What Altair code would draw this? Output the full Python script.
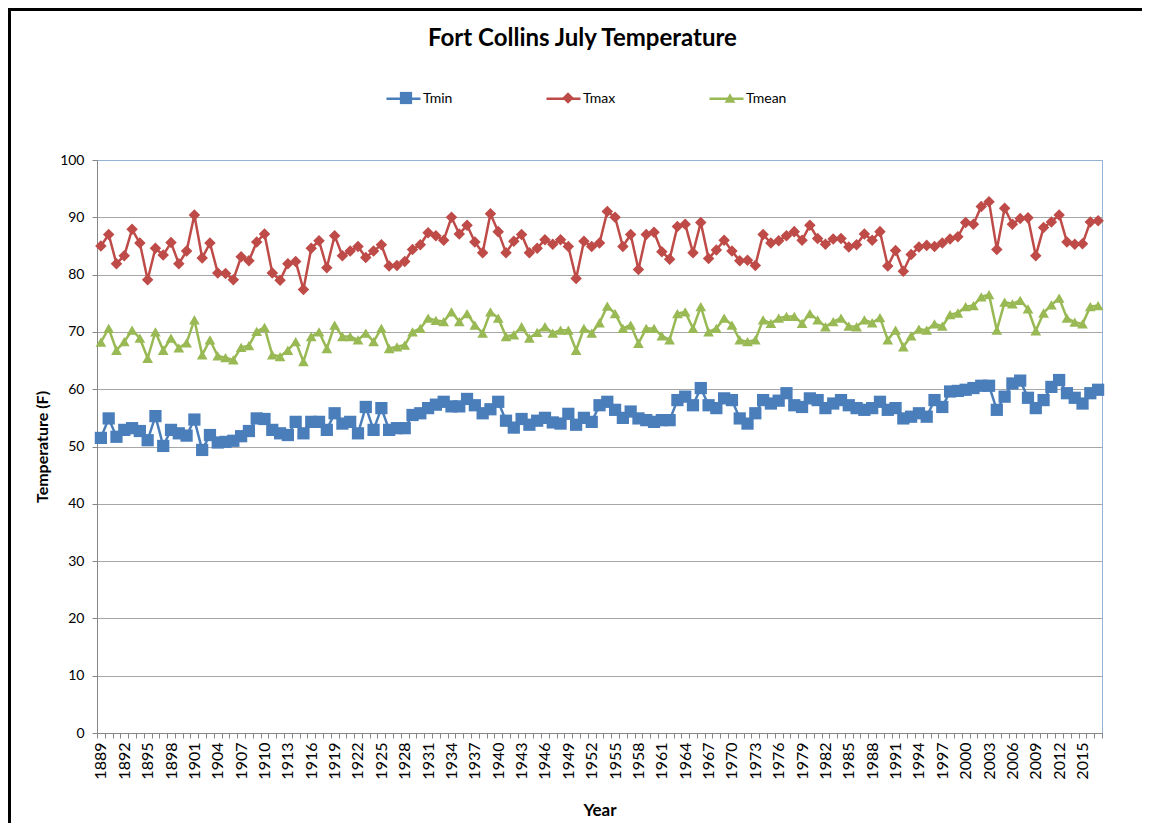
import altair as alt
import pandas as pd

years = list(range(1889, 2018))

tmin = [
    51.5, 54.9, 51.7, 52.9, 53.2, 52.7, 51.1, 55.3, 50.1, 52.9,
    52.3, 51.9, 54.7, 49.4, 52.0, 50.7, 50.8, 51.0, 51.8, 52.7,
    54.9, 54.8, 52.9, 52.3, 52.0, 54.3, 52.3, 54.3, 54.3, 52.9,
    55.8, 54.0, 54.3, 52.3, 56.9, 52.9, 56.7, 52.9, 53.2, 53.2,
    55.5, 55.8, 56.7, 57.3, 57.8, 57.0, 57.0, 58.3, 57.2, 55.8,
    56.5, 57.8, 54.5, 53.3, 54.8, 53.8, 54.5, 55.0, 54.2, 54.0,
    55.7, 53.8, 55.0, 54.3, 57.2, 57.8, 56.4, 55.0, 56.1, 54.9,
    54.6, 54.3, 54.6, 54.6, 58.1, 58.7, 57.2, 60.2, 57.2, 56.7,
    58.4, 58.1, 54.9, 54.0, 55.8, 58.1, 57.5, 58.0, 59.3, 57.2,
    56.9, 58.4, 58.1, 56.7, 57.5, 58.1, 57.2, 56.7, 56.4, 56.7,
    57.8, 56.4, 56.7, 54.9, 55.2, 55.8, 55.2, 58.1, 56.9, 59.6,
    59.7, 59.9, 60.2, 60.6, 60.6, 56.4, 58.7, 61.0, 61.5, 58.5,
    56.7, 58.1, 60.4, 61.6, 59.3, 58.5, 57.5, 59.3, 59.9,
]

tmax = [
    85.0, 87.0, 81.9, 83.3, 87.9, 85.5, 79.1, 84.6, 83.4, 85.6,
    81.9, 84.1, 90.4, 82.9, 85.5, 80.3, 80.2, 79.1, 83.1, 82.4,
    85.7, 87.1, 80.3, 79.0, 81.9, 82.3, 77.4, 84.6, 85.9, 81.2,
    86.8, 83.3, 84.1, 84.9, 83.0, 84.1, 85.2, 81.5, 81.6, 82.3,
    84.4, 85.2, 87.3, 86.8, 86.0, 90.0, 87.1, 88.6, 85.7, 83.8,
    90.6, 87.5, 83.8, 85.8, 87.0, 83.8, 84.6, 86.1, 85.3, 86.1,
    84.9, 79.3, 85.8, 84.9, 85.5, 91.0, 90.0, 84.9, 87.0, 80.9,
    87.0, 87.4, 84.0, 82.7, 88.4, 88.8, 83.8, 89.1, 82.8, 84.3,
    86.0, 84.1, 82.4, 82.5, 81.6, 87.0, 85.5, 85.9, 86.8, 87.5,
    86.0, 88.6, 86.3, 85.3, 86.2, 86.3, 84.8, 85.2, 87.1, 86.0,
    87.5, 81.5, 84.2, 80.6, 83.5, 84.8, 85.1, 84.9, 85.5, 86.2,
    86.6, 89.1, 88.8, 91.9, 92.7, 84.4, 91.6, 88.8, 89.8, 89.9,
    83.3, 88.2, 89.2, 90.4, 85.7, 85.3, 85.4, 89.2, 89.4,
]

tmean = [
    68.2, 70.6, 66.8, 68.3, 70.3, 68.9, 65.4, 70.0, 66.8, 68.9,
    67.2, 68.1, 72.1, 66.0, 68.6, 65.8, 65.5, 65.1, 67.3, 67.6,
    70.1, 70.8, 66.0, 65.7, 66.8, 68.3, 64.8, 69.2, 70.0, 67.1,
    71.2, 69.2, 69.2, 68.6, 69.8, 68.3, 70.6, 67.1, 67.4, 67.7,
    70.0, 70.6, 72.4, 72.0, 71.8, 73.5, 71.8, 73.2, 71.2, 69.8,
    73.5, 72.4, 69.2, 69.5, 70.9, 68.9, 69.9, 70.9, 69.8, 70.3,
    70.3, 66.8, 70.6, 69.8, 71.6, 74.5, 73.2, 70.6, 71.2, 68.0,
    70.6, 70.6, 69.3, 68.6, 73.2, 73.5, 70.6, 74.4, 70.0, 70.6,
    72.4, 71.2, 68.6, 68.3, 68.6, 72.1, 71.5, 72.4, 72.7, 72.7,
    71.5, 73.2, 72.1, 70.9, 71.8, 72.4, 71.0, 70.9, 72.1, 71.6,
    72.5, 68.6, 70.3, 67.4, 69.3, 70.5, 70.3, 71.4, 71.0, 73.0,
    73.3, 74.4, 74.6, 76.1, 76.5, 70.3, 75.2, 74.9, 75.5, 74.0,
    70.2, 73.3, 74.7, 75.9, 72.4, 71.7, 71.4, 74.4, 74.6,
]

series_names = ["Tmin", "Tmax", "Tmean"]
series_colors = ["#4a7ebb", "#be4b48", "#98b954"]
series_shapes = ["square", "diamond", "triangle-up"]
series_sizes = [150, 115, 140]
y_ticks = list(range(0, 101, 10))

LINE_PREFIX = "L-"
line_names = [LINE_PREFIX + n for n in series_names]

rows = []
for name, vals in zip(series_names, [tmin, tmax, tmean]):
    for yr, v in zip(years, vals):
        rows.append({"Year": yr, "Series": name, "Line": LINE_PREFIX + name, "Temp": v})
df = pd.DataFrame(rows)

FONT = "Lato"
AXIS_GRAY = "#868686"
BLUE_FRAME = "#95b3d7"

x_lo = years[0] - 0.5
x_hi = years[-1] + 0.5
tick_values = [x_lo + k for k in range(len(years) + 1)]

label_expr = (
    "((datum.value - %s) %% 3 == 0) && (datum.value < %s) ? format(datum.value + 0.5, 'd') : ''"
    % (x_lo, years[-1])
)

x_enc = alt.X(
    "Year:Q",
    scale=alt.Scale(domain=[x_lo, x_hi], nice=False, zero=False),
    axis=alt.Axis(
        values=tick_values,
        title="Year",
        titleFont=FONT,
        titleFontSize=17,
        titleFontWeight="bold",
        titleColor="#000000",
        titleY=77,
        titleBaseline="middle",
        labelAngle=270,
        labelExpr=label_expr,
        labelOffset=3.9,
        labelOverlap=False,
        labelFlush=False,
        labelFont=FONT,
        labelFontSize=16,
        labelColor="#000000",
        labelPadding=4,
        grid=False,
        tickSize=5,
        tickColor=AXIS_GRAY,
        domainColor=AXIS_GRAY,
    ),
)

y_enc = alt.Y(
    "Temp:Q",
    scale=alt.Scale(domain=[0, 100], nice=False, zero=True),
    axis=alt.Axis(
        values=y_ticks,
        title="Temperature (F)",
        titleFont=FONT,
        titleFontSize=16,
        titleFontWeight="bold",
        titleColor="#000000",
        titleX=-55,
        titleBaseline="middle",
        labelFont=FONT,
        labelFontSize=14,
        labelColor="#000000",
        labelPadding=8,
        tickSize=5,
        tickColor=AXIS_GRAY,
        domainColor=AXIS_GRAY,
        gridColor={"condition": {"test": "datum.value === 100", "value": BLUE_FRAME}, "value": "#a6a6a6"},
        gridWidth=1,
    ),
)

LINE_SYM = 1156    # 34 px long legend line
MARK_SYM = 72      # about 8.5 px legend marker

line_legend = alt.Legend(
    title=None,
    orient="none",
    legendX=288,
    legendY=-80,
    direction="horizontal",
    columnPadding=88,
    symbolType="stroke",
    symbolSize=LINE_SYM,
    symbolStrokeWidth=2.5,
    labelExpr="replace(datum.label, '%s', '')" % LINE_PREFIX,
    labelFont=FONT,
    labelFontSize=14,
    labelColor="#000000",
    labelOffset=1,
    zindex=1,
)

marker_legend = alt.Legend(
    title=None,
    orient="none",
    legendX=288,
    legendY=-69,
    direction="horizontal",
    columnPadding=134,
    symbolSize=MARK_SYM,
    symbolStrokeWidth=0,
    symbolOffset=14,
    labelExpr="''",
    labelFont=FONT,
    labelFontSize=14,
    labelOffset=0,
    zindex=2,
)

lines = alt.Chart(df).mark_line(strokeWidth=2.5).encode(
    x=x_enc,
    y=y_enc,
    stroke=alt.Stroke("Line:N", scale=alt.Scale(domain=line_names, range=series_colors), legend=line_legend),
    detail="Line:N",
)

points = alt.Chart(df).mark_point(filled=True, opacity=1).encode(
    x=x_enc,
    y=y_enc,
    color=alt.Color("Series:N", scale=alt.Scale(domain=series_names, range=series_colors), legend=marker_legend),
    shape=alt.Shape("Series:N", scale=alt.Scale(domain=series_names, range=series_shapes), legend=marker_legend),
    size=alt.Size("Series:N", scale=alt.Scale(domain=series_names, range=series_sizes), legend=None),
)

top_edge = alt.Chart(pd.DataFrame({"k": [0]})).mark_rule(color="#000000", strokeWidth=3).encode(
    x=alt.value(-89), x2=alt.value(1100), y=alt.value(-150.5)
)
left_edge = alt.Chart(pd.DataFrame({"k": [0]})).mark_rule(color="#000000", strokeWidth=3).encode(
    x=alt.value(-87.5), y=alt.value(-152), y2=alt.value(700)
)

chart = alt.layer(lines, points, top_edge, left_edge).properties(
    width=1005,
    height=573,
    title=alt.TitleParams(
        "Fort Collins July Temperature",
        font=FONT,
        fontSize=24,
        fontWeight="bold",
        color="#000000",
        anchor="middle",
        frame="group",
        dx=-17,
        offset=0,
        dy=44,
    ),
    autosize=alt.AutoSizeParams(type="none"),
    padding={"left": 89, "top": 152, "right": 40, "bottom": 90},
    background="#ffffff",
).configure_view(stroke=BLUE_FRAME, strokeWidth=1)

chart.save("out.html", embed_options={"renderer": "svg", "actions": False})
